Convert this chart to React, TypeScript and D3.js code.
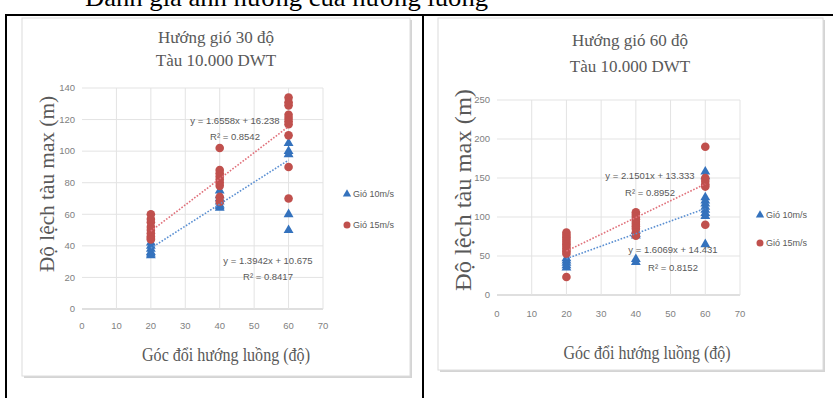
import React from 'react';
import * as d3 from 'd3';

// ---------- data ----------
const caption = 'Đánh giá ảnh hưởng của hướng luồng';
const xTickValues = [0, 10, 20, 30, 40, 50, 60, 70];
const legendLabels = ['Gió 10m/s', 'Gió 15m/s'];
const yAxisTitle = 'Độ lệch tàu max (m)';
const xAxisTitle = 'Góc đổi hướng luồng (độ)';

// Chart 1: Hướng gió 30 độ
const chart1Title = ['Hướng gió 30 độ', 'Tàu 10.000 DWT'];
const chart1YTicks = [0, 20, 40, 60, 80, 100, 120, 140];
const chart1Wind10X = [20, 20, 20, 20, 20, 20, 40, 40, 40, 40, 40, 40, 40, 60, 60, 60, 60, 60];
const chart1Wind10Y = [34, 35, 36, 38, 40, 42, 64, 65, 66, 68, 70, 72, 75, 105, 100, 98, 60, 50];
const chart1Wind15X = [20, 20, 20, 20, 20, 20, 20, 20, 20, 40, 40, 40, 40, 40, 40, 40, 40, 40, 60, 60, 60, 60, 60, 60, 60, 60, 60, 60];
const chart1Wind15Y = [60, 57, 55, 52, 50, 48, 46, 45, 44, 102, 88, 86, 84, 82, 80, 78, 71, 68, 134, 131, 129, 123, 121, 119, 117, 110, 90, 70];
const chart1Trend10 = [1.3942, 10.675];
const chart1Trend15 = [1.6558, 16.238];
const chart1Eq10 = ['y = 1.3942x + 10.675', 'R² = 0.8417'];
const chart1Eq15 = ['y = 1.6558x + 16.238', 'R² = 0.8542'];

// Chart 2: Hướng gió 60 độ
const chart2Title = ['Hướng gió 60 độ', 'Tàu 10.000 DWT'];
const chart2YTicks = [0, 50, 100, 150, 200, 250];
const chart2Wind10X = [20, 20, 20, 20, 20, 40, 40, 40, 40, 40, 60, 60, 60, 60, 60, 60, 60, 60, 60, 60];
const chart2Wind10Y = [47, 44, 41, 38, 35, 82, 78, 76, 46, 42, 158, 152, 125, 121, 117, 113, 109, 105, 101, 65];
const chart2Wind15X = [20, 20, 20, 20, 20, 20, 20, 20, 20, 20, 20, 40, 40, 40, 40, 40, 40, 40, 40, 40, 40, 60, 60, 60, 60, 60, 60];
const chart2Wind15Y = [80, 77, 74, 71, 68, 65, 62, 59, 56, 53, 23, 106, 103, 100, 97, 94, 91, 88, 85, 80, 76, 190, 150, 146, 142, 139, 90];
const chart2Trend10 = [1.6069, 14.431];
const chart2Trend15 = [2.1501, 13.333];
const chart2Eq10 = ['y = 1.6069x + 14.431', 'R² = 0.8152'];
const chart2Eq15 = ['y = 2.1501x + 13.333', 'R² = 0.8952'];

// ---------- styling / layout ----------
const RED = '#c0504d';
const BLUE = '#3472bd';
const RED_TREND = '#e0707a';
const BLUE_TREND = '#5a8fd2';
const TEXT = '#595959';
const TICK = '#7f7f7f';
const SERIF = '"Liberation Serif", "DejaVu Serif", serif';
const SANS = '"Liberation Sans", Arial, sans-serif';

type Cfg = {
  panel: [number, number, number, number];
  xRange: [number, number];
  yRange: [number, number];
  yMax: number;
  yTicks: number[];
  title: string[];
  titleX: number;
  titleY: [number, number];
  titleSize: number;
  yTitlePos: [number, number];
  yTitleSize: number;
  yTitleLen: number;
  xTitlePos: [number, number];
  xTitleSize: number;
  xTitleLen: number;
  xTickY: number;
  legendPos: [number, number, number];
  w10x: number[]; w10y: number[];
  w15x: number[]; w15y: number[];
  t10: number[]; t15: number[];
  eq10: string[]; eq15: string[];
  eq10Pos: [number, number, number];
  eq15Pos: [number, number, number];
};

function Chart({ c }: { c: Cfg }) {
  const x = d3.scaleLinear().domain([0, 70]).range(c.xRange);
  const y = d3.scaleLinear().domain([0, c.yMax]).range(c.yRange);
  const tri = d3.symbol().type(d3.symbolTriangle).size(42)() as string;
  const [px, py, pw, ph] = c.panel;
  const trendLine = (t: number[]) => {
    const line = d3.line<number>().x((d) => x(d)).y((d) => y(t[0] * d + t[1]));
    return line([20, 60]) as string;
  };
  return (
    <g>
      <rect x={px + 2} y={py + 2} width={pw} height={ph} fill="#d4d4d4" />
      <rect x={px} y={py} width={pw} height={ph} fill="#fff" stroke="#dcdcdc" strokeWidth={1} />
      {c.title.map((t, i) => (
        <text key={i} x={c.titleX} y={c.titleY[i]} textAnchor="middle" fontFamily={SERIF} fontSize={c.titleSize} fill={TEXT}>
          {t}
        </text>
      ))}
      {c.yTicks.map((v) => (
        <line key={'h' + v} x1={x(0)} x2={x(70)} y1={y(v)} y2={y(v)} stroke={v === 0 ? '#bfbfbf' : '#e3e3e3'} strokeWidth={1} />
      ))}
      {xTickValues.filter((v) => v > 0).map((v) => (
        <line key={'v' + v} x1={x(v)} x2={x(v)} y1={y(0)} y2={y(c.yMax)} stroke="#e3e3e3" strokeWidth={1} />
      ))}
      {c.yTicks.map((v) => (
        <text key={'yl' + v} x={x(0) - 7} y={y(v)} dy="0.35em" textAnchor="end" fontFamily={SANS} fontSize={9.5} fill={TICK}>
          {v}
        </text>
      ))}
      {xTickValues.map((v) => (
        <text key={'xl' + v} x={x(v)} y={c.xTickY} dy="0.35em" textAnchor="middle" fontFamily={SANS} fontSize={9.5} fill={TICK}>
          {v}
        </text>
      ))}
      <text
        transform={`translate(${c.yTitlePos[0]},${c.yTitlePos[1]}) rotate(-90)`}
        textAnchor="middle"
        dy="0.35em"
        fontFamily={SERIF}
        fontSize={c.yTitleSize}
        fill={TEXT}
        textLength={c.yTitleLen}
        lengthAdjust="spacingAndGlyphs"
      >
        {yAxisTitle}
      </text>
      <text
        x={c.xTitlePos[0]}
        y={c.xTitlePos[1]}
        dy="0.35em"
        textAnchor="middle"
        fontFamily={SERIF}
        fontSize={c.xTitleSize}
        fill={TEXT}
        textLength={c.xTitleLen}
        lengthAdjust="spacingAndGlyphs"
      >
        {xAxisTitle}
      </text>
      {c.w10x.map((vx, i) => (
        <path key={'b' + i} d={tri} transform={`translate(${x(vx)},${y(c.w10y[i])})`} fill={BLUE} />
      ))}
      {c.w15x.map((vx, i) => (
        <circle key={'r' + i} cx={x(vx)} cy={y(c.w15y[i])} r={4.3} fill={RED} />
      ))}
      <path d={trendLine(c.t10)} stroke={BLUE_TREND} strokeWidth={1.6} strokeDasharray="1.6 1.6" fill="none" />
      <path d={trendLine(c.t15)} stroke={RED_TREND} strokeWidth={1.6} strokeDasharray="1.6 1.6" fill="none" />
      {c.eq15.map((t, i) => (
        <text key={'e15' + i} x={c.eq15Pos[0]} y={c.eq15Pos[1] + i * c.eq15Pos[2]} dy="0.35em" textAnchor="middle" fontFamily={SANS} fontSize={9.5} fill={TEXT}>
          {t}
        </text>
      ))}
      {c.eq10.map((t, i) => (
        <text key={'e10' + i} x={c.eq10Pos[0]} y={c.eq10Pos[1] + i * c.eq10Pos[2]} dy="0.35em" textAnchor="middle" fontFamily={SANS} fontSize={9.5} fill={TEXT}>
          {t}
        </text>
      ))}
      <path d={d3.symbol().type(d3.symbolTriangle).size(30)() as string} transform={`translate(${c.legendPos[0]},${c.legendPos[1]})`} fill={BLUE} />
      <text x={c.legendPos[0] + 6} y={c.legendPos[1]} dy="0.35em" fontFamily={SANS} fontSize={9} fill={TEXT}>
        {legendLabels[0]}
      </text>
      <circle cx={c.legendPos[0]} cy={c.legendPos[1] + c.legendPos[2]} r={3.5} fill={RED} />
      <text x={c.legendPos[0] + 6} y={c.legendPos[1] + c.legendPos[2]} dy="0.35em" fontFamily={SANS} fontSize={9} fill={TEXT}>
        {legendLabels[1]}
      </text>
    </g>
  );
}

const cfg1: Cfg = {
  panel: [22, 18, 388, 358],
  xRange: [82, 323],
  yRange: [309, 88],
  yMax: 140,
  yTicks: chart1YTicks,
  title: chart1Title,
  titleX: 216,
  titleY: [43, 66],
  titleSize: 17,
  yTitlePos: [47, 184],
  yTitleSize: 21,
  yTitleLen: 176,
  xTitlePos: [226, 354],
  xTitleSize: 19,
  xTitleLen: 168,
  xTickY: 326,
  legendPos: [347, 194, 31],
  w10x: chart1Wind10X, w10y: chart1Wind10Y,
  w15x: chart1Wind15X, w15y: chart1Wind15Y,
  t10: chart1Trend10, t15: chart1Trend15,
  eq10: chart1Eq10, eq15: chart1Eq15,
  eq10Pos: [268, 261, 16],
  eq15Pos: [235, 121, 16],
};

const cfg2: Cfg = {
  panel: [438, 18, 385, 352],
  xRange: [497, 740],
  yRange: [295, 100],
  yMax: 250,
  yTicks: chart2YTicks,
  title: chart2Title,
  titleX: 630,
  titleY: [46, 72],
  titleSize: 17,
  yTitlePos: [463, 190],
  yTitleSize: 23,
  yTitleLen: 202,
  xTitlePos: [647, 352],
  xTitleSize: 19,
  xTitleLen: 167,
  xTickY: 314,
  legendPos: [760, 215, 28],
  w10x: chart2Wind10X, w10y: chart2Wind10Y,
  w15x: chart2Wind15X, w15y: chart2Wind15Y,
  t10: chart2Trend10, t15: chart2Trend15,
  eq10: chart2Eq10, eq15: chart2Eq15,
  eq10Pos: [673, 250, 18],
  eq15Pos: [650, 176, 17],
};

export default function App() {
  return (
    <svg width={833} height={398} style={{ position: 'absolute', left: 0, top: 0, background: '#fff' }}>
      <rect x={0} y={0} width={833} height={398} fill="#fff" />
      <text x={85} y={6} fontFamily={SERIF} fontSize={26} fill="#000" textLength={403} lengthAdjust="spacingAndGlyphs">
        {caption}
      </text>
      <Chart c={cfg1} />
      <Chart c={cfg2} />
      <line x1={5} x2={833} y1={15} y2={15} stroke="#000" strokeWidth={2} />
      <line x1={6} x2={6} y1={15} y2={398} stroke="#000" strokeWidth={2} />
      <line x1={423} x2={423} y1={15} y2={398} stroke="#000" strokeWidth={2} />
    </svg>
  );
}
